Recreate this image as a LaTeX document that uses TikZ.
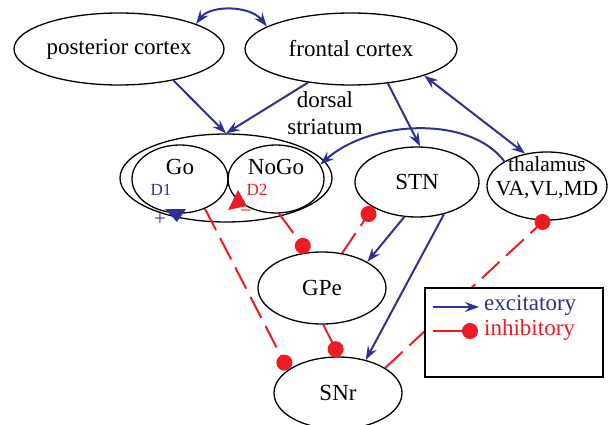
\documentclass[tikz,border=0pt]{standalone}
\usepackage{fontspec}
\setmainfont{Liberation Serif}
\usetikzlibrary{arrows.meta,shapes.geometric}
\definecolor{exc}{RGB}{46,49,146}
\definecolor{inh}{RGB}{237,28,36}
\begin{document}
\begin{tikzpicture}[x=1pt,y=-1pt,
  area/.style={draw, ellipse, line width=1.3pt, inner sep=0pt},
  big/.style={font=\fontsize{23}{27}\selectfont},
  small/.style={font=\fontsize{17}{20}\selectfont, inner sep=0pt},
  sign/.style={font=\fontsize{21}{24}\selectfont, inner sep=0pt},
  lbl/.style={big, inner sep=0pt},
  tip/.style={Stealth[length=14pt,width=10pt,inset=5pt]},
  exarrow/.style={draw=exc, line width=2pt, -{Stealth[length=14pt,width=10pt,inset=5pt]}},
  exboth/.style={draw=exc, line width=2pt, {Stealth[length=14pt,width=10pt,inset=5pt]}-{Stealth[length=14pt,width=10pt,inset=5pt]}},
  inharrow/.style={draw=inh, line width=2pt, dash pattern=on 24pt off 9pt, -{Circle[length=16pt]}},
  inhsolid/.style={draw=inh, line width=2pt, -{Circle[length=16pt]}}]
\useasboundingbox (0,0) rectangle (615,425);
% areas
\node[area, big, minimum width=210pt, minimum height=72pt] (pc) at (119,49) {posterior cortex};
\node[area, big, minimum width=212pt, minimum height=72pt] (fc) at (351,49) {frontal cortex};
\node[area, minimum width=212pt, minimum height=88pt] (str) at (226,178) {};
\node[area, minimum width=96pt, minimum height=68pt] (go) at (180,179) {};
\node[area, minimum width=96pt, minimum height=68pt] (nogo) at (276,179) {};
\node[lbl] (golbl) at (180,167) {Go};
\node[lbl] (nogolbl) at (276,167) {NoGo};
\node[small, text=exc] (d1) at (161,190) {D1};
\node[small, text=inh] (d2) at (257,190) {D2};
\node[area, big, minimum width=124pt, minimum height=70pt] (stn) at (417,182) {STN};
\node[area, minimum width=120pt, minimum height=68pt] (th) at (547,186) {};
\node[inner sep=0pt, align=center, font=\fontsize{21.5}{24}\selectfont] (thlbl) at (547,178) {thalamus\\VA,VL,MD};
\node[area, big, minimum width=128pt, minimum height=72pt] (gpe) at (322,288) {GPe};
\node[area, big, minimum width=128pt, minimum height=72pt] (snr) at (338,393) {SNr};
\node[lbl, align=center] (ds) at (325,113) {dorsal\\striatum};
% D1 / D2 effects
\fill[exc] (165,209) -- (186,209) -- (177,222) -- cycle;
\fill[inh] (238,190) -- (228,210) -- (247,206) -- cycle;
\node[sign, text=exc] (plus) at (160,220) {+};
\node[sign, text=inh] (minus) at (246,214) {−};
% excitatory connections
\draw[exboth] (pc.18) .. controls (210,5) and (250,5) .. (fc.165);
\draw[exarrow] (pc.-30) -- (str.north);
\draw[exarrow] (fc.-142) -- (str.north);
\draw[exarrow] (fc.-43) -- (stn.85);
\draw[exboth] (fc.-20) -- (th.124);
\draw[exarrow] (th.150) .. controls (470,115) and (370,120) .. (nogo.18);
\draw[exarrow] (stn.-110) -- (gpe.30);
\draw[exarrow] (stn.-50) -- (snr.50);
% inhibitory connections
\draw[inharrow] (go.-50) -- (snr.155);
\draw[inharrow] (nogo.-85) -- (gpe.112);
\draw[inharrow] (gpe.60) -- (stn.-150);
\draw[inharrow] (gpe.-88) -- (snr.88);
\draw[inharrow, shorten >=-6pt] (snr.28) -- (th.-95);
% legend
\node[draw, line width=1.5pt, fill=white, minimum width=178pt, minimum height=89pt, inner sep=0pt] (legend) at (514,332.5) {};
\coordinate (ea) at (433,307);
\coordinate (eb) at (479,307);
\draw[exarrow] (ea) -- (eb);
\node[lbl, anchor=west, text=exc] (et) at (484,305) {excitatory};
\coordinate (ia) at (433,331);
\coordinate (ib) at (478,331);
\draw[inhsolid] (ia) -- (ib);
\node[lbl, anchor=west, text=inh] (it) at (484,330) {inhibitory};
\end{tikzpicture}
\end{document}
